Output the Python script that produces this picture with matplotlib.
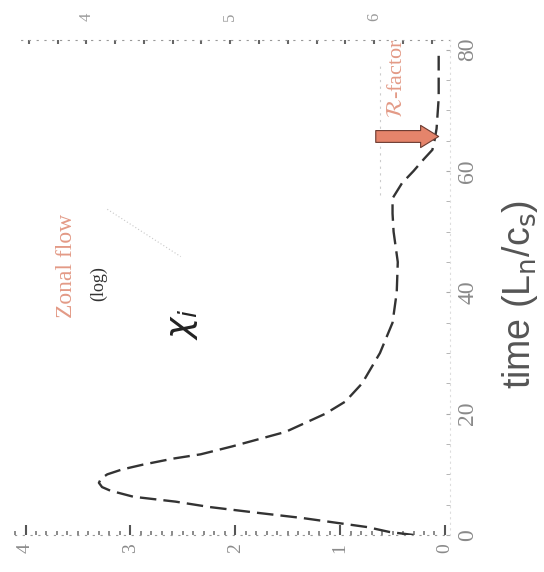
import numpy as np
import matplotlib
matplotlib.use("Agg")
import matplotlib.pyplot as plt
from matplotlib.ticker import MultipleLocator

# -------------------------------
# Data
# -------------------------------
time = [0, 0.5, 1.3, 2.0, 2.8, 3.6, 4.6, 5.5, 6.3, 7.3, 7.9, 8.6, 9.3, 10,
        10.8, 11.6, 12.6, 13.3, 14.6, 17, 20, 22, 25, 30, 35, 40, 45, 50, 53,
        55.5, 58, 60, 62, 63.5, 65, 67, 72, 79]
chi_i = [0.3, 0.53, 0.74, 1.03, 1.36, 1.76, 2.24, 2.57, 2.97, 3.19, 3.27,
         3.3, 3.28, 3.22, 3.08, 2.88, 2.59, 2.33, 2.03, 1.52, 1.14, 0.95,
         0.79, 0.62, 0.5, 0.46, 0.45, 0.49, 0.5, 0.5, 0.41, 0.3, 0.2, 0.12,
         0.1, 0.08, 0.06, 0.06]

time_ticks = [0, 20, 40, 60, 80]
chi_ticks = [0, 1, 2, 3, 4]
zf_ticks = [4, 5, 6]

salmon = "#e39a86"
grey = "#8a8a8a"

# top axis (zonal flow, log10) as a linear map of chi
def chi_to_zf(c):
    return 6.493 - 0.729 * np.asarray(c)

def zf_to_chi(z):
    return (6.493 - np.asarray(z)) / 0.729

# -------------------------------
# Plot (figure is drawn rotated by 90 deg)
# -------------------------------
fig = plt.figure(figsize=(5.44, 5.72), dpi=100)
ax = fig.add_axes([0.0276, 0.0647, 0.8, 0.8653])

ax.plot(chi_i, time, color="#333333", lw=1.7, linestyle=(0, (7, 3)))

ax.set_xlim(4.1, -0.05)
ax.set_ylim(0, 81.6)

# time axis on the right
ax.yaxis.tick_right()
ax.set_yticks(time_ticks)
ax.yaxis.set_minor_locator(MultipleLocator(5))
ax.set_yticklabels([str(v) for v in time_ticks], rotation=90, va="center",
                   fontsize=17, family="Liberation Serif", color=grey)
ax.tick_params(axis="y", which="both", direction="in", length=3,
               color="#aaaaaa", pad=5)

# chi axis on the bottom
ax.set_xticks(chi_ticks)
ax.xaxis.set_minor_locator(MultipleLocator(0.1))
ax.set_xticklabels([str(v) for v in chi_ticks], rotation=90, ha="center",
                   fontsize=14, family="Liberation Serif", color=grey)
ax.tick_params(axis="x", which="major", direction="in", length=7, width=1.5,
               color="#555555", pad=6)
ax.tick_params(axis="x", which="minor", direction="in", length=3, width=1.2,
               color="#777777")

# zonal flow axis on top
sec = ax.secondary_xaxis("top", functions=(chi_to_zf, zf_to_chi))
sec.set_xticks(zf_ticks)
sec.xaxis.set_minor_locator(MultipleLocator(0.2))
sec.set_xticklabels([str(v) for v in zf_ticks], rotation=90, fontsize=12,
                    family="Liberation Serif", color="#999999")
sec.tick_params(which="both", direction="in", length=3, width=1.5,
                color="#666666", pad=14)
sec.spines["top"].set_linestyle((0, (1, 6)))
sec.spines["top"].set_color("#999999")

ax.spines["left"].set_visible(False)
ax.spines["top"].set_visible(False)
ax.spines["bottom"].set_linestyle((0, (1, 6)))
ax.spines["bottom"].set_color("#999999")
ax.spines["right"].set_linestyle((0, (1, 4)))
ax.spines["right"].set_color("#dddddd")

# annotations
ax.text(3.61, 44.3, "Zonal flow", rotation=90, ha="center", va="center",
        fontsize=17, family="Liberation Serif", color=salmon)
ax.text(3.30, 41.5, "(log)", rotation=90, ha="center", va="center",
        fontsize=13, family="Liberation Serif", color="#333333")
ax.plot([3.22, 2.52], [53.7, 45.9], color="#bbbbbb", lw=0.8,
        linestyle=(0, (1, 2)), alpha=0.8)
ax.text(2.5, 34.7, r"$\chi_i$", rotation=90, ha="center", va="center",
        fontsize=26, color="#222222")

ax.text(0.45, 75.4, r"$\mathcal{R}$-factor", rotation=90, ha="center",
        va="center", fontsize=16, family="Liberation Serif", color=salmon)
ax.plot([0.62, 0.62], [56, 78], color="#cccccc", lw=0.8,
        linestyle=(0, (2, 4)))
ax.annotate("", xy=(0.06, 65.7), xytext=(0.66, 65.7),
            arrowprops=dict(arrowstyle="simple,head_length=1.3,head_width=1.6,tail_width=0.85",
                            mutation_scale=10, fc="#e5846b", ec="#6b3a30",
                            lw=0.8, shrinkA=0, shrinkB=0))

fig.text(0.956, 0.485, r"time (L$_{\rm n}$/c$_{\rm s}$)", rotation=90,
         ha="center", va="center", fontsize=27, family="Liberation Sans",
         color="#555555")

fig.savefig("out.png", dpi=100, facecolor="white")
